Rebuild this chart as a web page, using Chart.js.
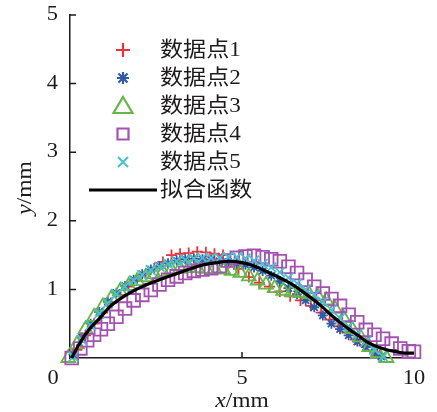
<!DOCTYPE html>
<html>
<head>
<meta charset="utf-8">
<script src="https://cdn.jsdelivr.net/npm/chart.js@4.4.0/dist/chart.umd.min.js"></script>
<style>
html, body { margin: 0; padding: 0; background: #fff; }
</style>
</head>
<body>
<canvas id="myChart" width="437" height="412"></canvas>
<script>
// values (x and y in mm)
const fit_x = [0.05, 0.3, 0.58, 0.9, 1.16, 1.45, 1.74, 2.05, 2.33, 2.7, 3.1, 3.5, 3.88, 4.25, 4.65, 5.0, 5.25, 5.5, 5.8, 6.1, 6.4, 6.7, 7.0, 7.3, 7.65, 7.9, 8.14, 8.4, 8.62, 8.9, 9.2, 9.4, 9.6, 9.8, 10.0];
const fit_y = [0.0, 0.23, 0.43, 0.6, 0.75, 0.86, 0.95, 1.03, 1.09, 1.16, 1.23, 1.3, 1.36, 1.39, 1.41, 1.39, 1.36, 1.31, 1.24, 1.17, 1.09, 0.99, 0.88, 0.76, 0.6, 0.5, 0.41, 0.32, 0.24, 0.17, 0.12, 0.1, 0.08, 0.07, 0.07];

const s1_x = [0.2, 0.45, 0.7, 0.95, 1.2, 1.45, 1.7, 1.95, 2.2, 2.45, 2.7, 2.95, 3.2, 3.45, 3.7, 3.95, 4.2, 4.45, 4.65, 4.9, 5.2, 5.5, 5.8, 6.1, 6.4, 6.7, 7.0, 7.3, 7.55, 7.8, 8.05, 8.3, 8.55, 8.8, 9.0];
const s1_y = [0.12, 0.33, 0.5, 0.66, 0.8, 0.92, 1.04, 1.13, 1.22, 1.31, 1.4, 1.5, 1.52, 1.53, 1.55, 1.54, 1.52, 1.5, 1.42, 1.3, 1.18, 1.1, 1.04, 0.97, 0.9, 0.84, 0.76, 0.66, 0.56, 0.46, 0.37, 0.27, 0.18, 0.1, 0.04];

const s2_x = [0.1, 0.35, 0.6, 0.85, 1.1, 1.35, 1.6, 1.85, 2.1, 2.35, 2.6, 2.85, 3.1, 3.35, 3.6, 3.85, 4.1, 4.35, 4.6, 4.85, 5.1, 5.35, 5.6, 5.85, 6.1, 6.35, 6.6, 6.85, 7.1, 7.35, 7.6, 7.85, 8.1, 8.35, 8.6, 8.85, 9.05];
const s2_y = [0.05, 0.3, 0.5, 0.67, 0.82, 0.95, 1.05, 1.14, 1.22, 1.29, 1.34, 1.38, 1.42, 1.44, 1.45, 1.44, 1.43, 1.41, 1.4, 1.38, 1.36, 1.32, 1.27, 1.2, 1.12, 1.02, 0.93, 0.84, 0.74, 0.62, 0.5, 0.42, 0.33, 0.24, 0.16, 0.08, 0.02];

const s3_x = [-0.05, 0.2, 0.45, 0.7, 0.95, 1.2, 1.45, 1.7, 1.95, 2.2, 2.45, 2.7, 2.95, 3.2, 3.45, 3.7, 3.95, 4.2, 4.45, 4.7, 4.95, 5.2, 5.45, 5.7, 5.95, 6.2, 6.45, 6.7, 6.95, 7.2, 7.45, 7.7, 7.95, 8.2, 8.45, 8.7, 8.95, 9.2];
const s3_y = [0.0, 0.2, 0.42, 0.6, 0.75, 0.87, 0.97, 1.05, 1.12, 1.18, 1.22, 1.25, 1.28, 1.3, 1.31, 1.31, 1.3, 1.3, 1.29, 1.27, 1.24, 1.19, 1.13, 1.07, 1.02, 0.98, 0.96, 0.95, 0.93, 0.9, 0.84, 0.72, 0.58, 0.42, 0.3, 0.16, 0.07, 0.0];

const s4_x = [0.05, 0.3, 0.5, 0.7, 0.9, 1.1, 1.35, 1.6, 1.85, 2.1, 2.35, 2.6, 2.85, 3.1, 3.35, 3.6, 3.85, 4.1, 4.35, 4.6, 4.85, 5.1, 5.35, 5.6, 5.85, 6.1, 6.35, 6.6, 6.85, 7.1, 7.35, 7.6, 7.85, 8.1, 8.35, 8.6, 8.85, 9.1, 9.35, 9.6, 9.85, 10.0];
const s4_y = [0.0, 0.14, 0.26, 0.34, 0.42, 0.5, 0.6, 0.72, 0.84, 0.92, 0.99, 1.07, 1.14, 1.19, 1.24, 1.27, 1.29, 1.31, 1.34, 1.42, 1.46, 1.48, 1.49, 1.47, 1.44, 1.41, 1.33, 1.24, 1.14, 1.04, 0.94, 0.86, 0.76, 0.63, 0.52, 0.41, 0.34, 0.28, 0.21, 0.14, 0.1, 0.09];

const s5_x = [0.1, 0.35, 0.6, 0.85, 1.1, 1.35, 1.6, 1.85, 2.1, 2.35, 2.6, 2.85, 3.1, 3.35, 3.6, 3.85, 4.1, 4.35, 4.6, 4.85, 5.1, 5.35, 5.6, 5.85, 6.1, 6.35, 6.6, 6.85, 7.1, 7.35, 7.6, 7.85, 8.1, 8.35, 8.6, 8.85, 9.1];
const s5_y = [0.02, 0.26, 0.48, 0.65, 0.8, 0.93, 1.04, 1.13, 1.21, 1.28, 1.33, 1.37, 1.41, 1.43, 1.45, 1.46, 1.46, 1.46, 1.47, 1.47, 1.45, 1.42, 1.37, 1.32, 1.25, 1.17, 1.09, 1.0, 0.92, 0.82, 0.7, 0.58, 0.46, 0.35, 0.24, 0.12, 0.02];

const x_ticks = [0, 5, 10];
const y_ticks = [1, 2, 3, 4, 5];
const series_names = ['数据点1', '数据点2', '数据点3', '数据点4', '数据点5', '拟合函数'];
const series_colors = ['#e8333c', '#2f5aa8', '#67b548', '#a352b0', '#4cc0cf', '#000000'];
const x_title = ['x', '/mm'];
const y_title = ['y', '/mm'];

const ink = '#1d1a1b';
const serif = '"Liberation Serif", "DejaVu Serif", serif';

function pts(xs, ys)
{
    return xs.map((x, i) => ({ x: x, y: ys[i] }));
}

// text drawn a bit wider than tall, like the scanned figure
function stretchText(ctx, txt, x, y, align, font, sx)
{
    ctx.save();
    ctx.translate(x, y);
    ctx.scale(sx, 1);
    ctx.font = font;
    ctx.textAlign = align;
    ctx.textBaseline = 'middle';
    ctx.fillText(txt, 0, 0);
    ctx.restore();
}

function drawMarker(ctx, kind, x, y, color)
{
    ctx.save();
    ctx.strokeStyle = color;
    ctx.lineWidth = 2.2;
    ctx.beginPath();
    if (kind == 'plus') {
        ctx.moveTo(x - 7, y); ctx.lineTo(x + 7, y);
        ctx.moveTo(x, y - 7); ctx.lineTo(x, y + 7);
    } else if (kind == 'star') {
        ctx.moveTo(x - 6, y); ctx.lineTo(x + 6, y);
        ctx.moveTo(x, y - 6); ctx.lineTo(x, y + 6);
        ctx.moveTo(x - 4.5, y - 4.5); ctx.lineTo(x + 4.5, y + 4.5);
        ctx.moveTo(x - 4.5, y + 4.5); ctx.lineTo(x + 4.5, y - 4.5);
    } else if (kind == 'tri') {
        ctx.moveTo(x, y - 9); ctx.lineTo(x + 9.5, y + 7); ctx.lineTo(x - 9.5, y + 7);
        ctx.closePath();
    } else if (kind == 'square') {
        ctx.rect(x - 5.5, y - 5.5, 11, 11);
    } else if (kind == 'x') {
        ctx.moveTo(x - 5, y - 5); ctx.lineTo(x + 5, y + 5);
        ctx.moveTo(x - 5, y + 5); ctx.lineTo(x + 5, y - 5);
    }
    ctx.stroke();
    ctx.restore();
}

const paperPlugin = {
    id: 'paper',
    afterDraw(chart)
    {
        const ctx = chart.ctx;
        const xs = chart.scales.x;
        const ys = chart.scales.y;
        const area = chart.chartArea;
        const tickFont = '20px ' + serif;

        ctx.save();
        ctx.strokeStyle = ink;
        ctx.fillStyle = ink;
        ctx.lineWidth = 1.5;

        // inward tick marks
        ctx.beginPath();
        y_ticks.forEach(v => {
            const py = ys.getPixelForValue(v);
            ctx.moveTo(area.left, py);
            ctx.lineTo(area.left + 6, py);
        });
        const p5 = xs.getPixelForValue(5);
        ctx.moveTo(p5, area.bottom);
        ctx.lineTo(p5, area.bottom - 6);
        ctx.stroke();

        // tick labels
        y_ticks.forEach(v => {
            stretchText(ctx, String(v), area.left - 12, ys.getPixelForValue(v), 'right', tickFont, 1.12);
        });
        x_ticks.forEach(v => {
            let px = xs.getPixelForValue(v);
            if (v == 0) px -= 17;
            stretchText(ctx, String(v), px, area.bottom + 21, 'center', tickFont, 1.12);
        });

        // axis titles: italic variable, upright unit
        const itFont = 'italic 21px ' + serif;
        const upFont = '21px ' + serif;
        ctx.font = itFont;
        const wx = ctx.measureText(x_title[0]).width * 1.12;
        ctx.font = upFont;
        const wu = ctx.measureText(x_title[1]).width * 1.12;
        let sx = xs.getPixelForValue(5) - (wx + wu) / 2;
        stretchText(ctx, x_title[0], sx, 401, 'left', itFont, 1.12);
        stretchText(ctx, x_title[1], sx + wx, 401, 'left', upFont, 1.12);

        ctx.save();
        ctx.translate(25, 188);
        ctx.rotate(-Math.PI / 2);
        ctx.font = itFont;
        const wy = ctx.measureText(y_title[0]).width * 1.12;
        ctx.font = upFont;
        const wu2 = ctx.measureText(y_title[1]).width * 1.12;
        sx = -(wy + wu2) / 2;
        stretchText(ctx, y_title[0], sx, 0, 'left', itFont, 1.12);
        stretchText(ctx, y_title[1], sx + wy, 0, 'left', upFont, 1.12);
        ctx.restore();

        // legend
        const kinds = ['plus', 'star', 'tri', 'square', 'x'];
        const legFont = '21px ' + serif + ', "Noto Sans CJK SC"';
        for (let i = 0; i < series_names.length; i++) {
            const ry = 50 + i * 28;
            if (i < 5) {
                drawMarker(ctx, kinds[i], 123, ry, series_colors[i]);
            } else {
                ctx.strokeStyle = '#000';
                ctx.lineWidth = 3.2;
                ctx.beginPath();
                ctx.moveTo(89, ry);
                ctx.lineTo(157, ry);
                ctx.stroke();
            }
            ctx.fillStyle = ink;
            stretchText(ctx, series_names[i], 160, ry, 'left', legFont, 1.1);
        }
        ctx.restore();
    }
};

function pointSet(label, xs, ys, color, style, radius, order)
{
    return {
        label: label,
        data: pts(xs, ys),
        showLine: false,
        pointStyle: style,
        pointRadius: radius,
        pointHoverRadius: radius,
        pointBorderColor: color,
        borderColor: color,
        pointBackgroundColor: 'rgba(0,0,0,0)',
        backgroundColor: 'rgba(0,0,0,0)',
        pointBorderWidth: 1.8,
        clip: false,
        order: order
    };
}

const ctx = document.getElementById('myChart');
const myChart = new Chart(ctx, {
    type: 'scatter',
    data: {
        datasets: [
            pointSet(series_names[0], s1_x, s1_y, series_colors[0], 'cross', 5.5, 5),
            pointSet(series_names[1], s2_x, s2_y, series_colors[1], 'star', 5, 4),
            pointSet(series_names[2], s3_x, s3_y, series_colors[2], 'triangle', 8, 3),
            pointSet(series_names[3], s4_x, s4_y, series_colors[3], 'rect', 9, 2),
            pointSet(series_names[4], s5_x, s5_y, series_colors[4], 'crossRot', 7, 1),
            {
                label: series_names[5],
                data: pts(fit_x, fit_y),
                showLine: true,
                pointRadius: 0,
                borderColor: '#000',
                borderWidth: 3.2,
                tension: 0.4,
                cubicInterpolationMode: 'monotone',
                fill: false,
                clip: false,
                order: 0
            }
        ]
    },
    options: {
        responsive: false,
        animation: false,
        events: [],
        layout: { padding: { top: 15, right: 23, left: 0, bottom: 0 } },
        plugins: { legend: { display: false }, tooltip: { enabled: false } },
        scales: {
            x: {
                type: 'linear', min: 0, max: 10,
                ticks: { display: false },
                grid: { display: false },
                border: { display: true, color: ink, width: 1.5 },
                afterFit: s => { s.height = 54; }
            },
            y: {
                type: 'linear', min: 0, max: 5,
                ticks: { display: false },
                grid: { display: false },
                border: { display: true, color: ink, width: 1.5 },
                afterFit: s => { s.width = 70; }
            }
        }
    },
    plugins: [paperPlugin]
});
</script>
</body>
</html>
